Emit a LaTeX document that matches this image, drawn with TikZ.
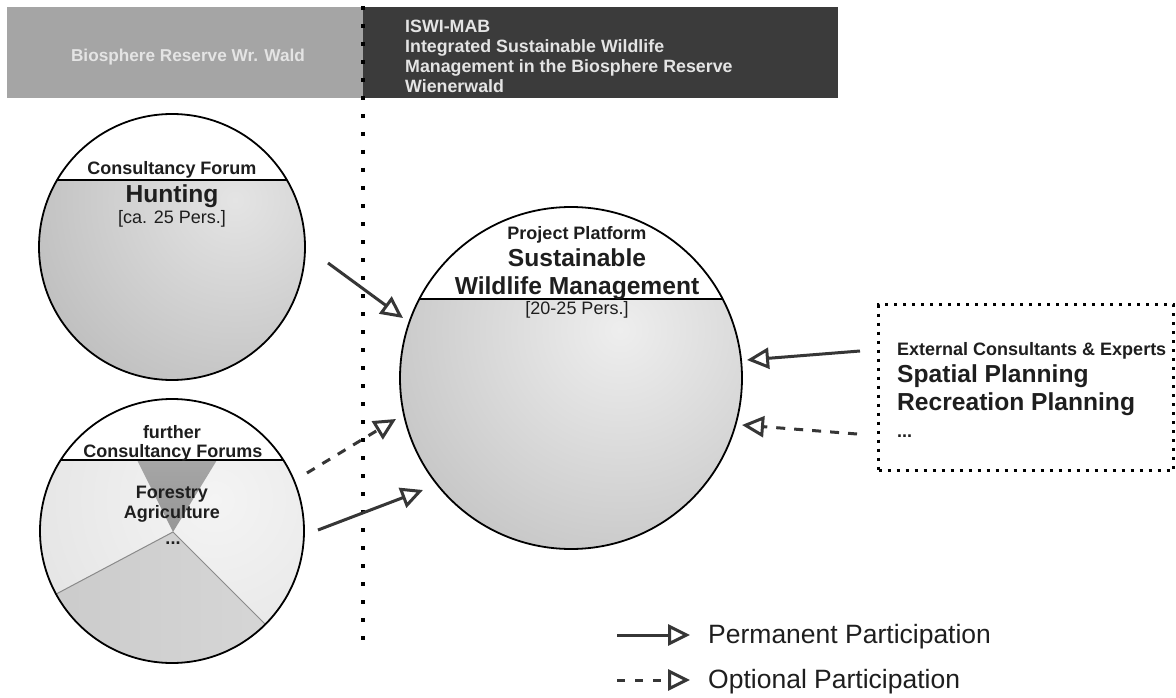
\documentclass[tikz,border=0pt]{standalone}
\usepackage{fontspec}
\setmainfont{Liberation Sans}
\usetikzlibrary{arrows.meta}
\definecolor{bandlight}{HTML}{A5A5A5}
\definecolor{banddark}{HTML}{3B3B3B}
\definecolor{bandtext}{HTML}{E4E4E4}
\definecolor{arrowc}{HTML}{363636}
\definecolor{txt}{HTML}{1E1E1E}
\definecolor{hiH}{HTML}{E4E4E4}
\definecolor{loH}{HTML}{8C8C8C}
\definecolor{hiP}{HTML}{EEEEEE}
\definecolor{loP}{HTML}{8E8E8E}
\definecolor{hiF}{HTML}{F4F4F4}
\definecolor{loF}{HTML}{D0D0D0}
\definecolor{lowL}{HTML}{C6C6C6}
\definecolor{lowR}{HTML}{DADADA}
\definecolor{wedgeT}{HTML}{A6A6A6}
\definecolor{wedgeB}{HTML}{969696}
\definecolor{pieline}{HTML}{8A8A8A}
\pgfdeclareradialshading{ballH}{\pgfpoint{0bp}{0bp}}{color(0bp)=(hiH); color(50bp)=(loH)}
\pgfdeclareradialshading{ballP}{\pgfpoint{0bp}{0bp}}{color(0bp)=(hiP); color(50bp)=(loP)}
\pgfdeclareradialshading{ballF}{\pgfpoint{0bp}{0bp}}{color(0bp)=(hiF); color(50bp)=(loF)}
\tikzset{
  band/.style={inner sep=0pt, outer sep=0pt, anchor=north west},
  bandtxt/.style={inner sep=0pt, text=bandtext, anchor=base west, font=\fontsize{17.8}{21}\selectfont\bfseries},
  forum/.style={circle, draw=black, line width=1.8pt, inner sep=0pt},
  chordline/.style={draw=black, line width=1.8pt},
  smallb/.style={inner sep=0pt, text=txt, anchor=base, font=\fontsize{18}{21}\selectfont\bfseries},
  bigb/.style={inner sep=0pt, text=txt, anchor=base, font=\fontsize{24.6}{28}\selectfont\bfseries},
  smallr/.style={inner sep=0pt, text=txt, anchor=base, font=\fontsize{18}{21}\selectfont},
  conn/.style={draw=arrowc, line width=3pt, -{Triangle[open, length=22pt, width=21pt, line width=3pt]}},
  opt/.style={conn, dash pattern=on 9pt off 9pt},
  legtxt/.style={inner sep=0pt, text=txt, anchor=base west, font=\fontsize{26.5}{30}\selectfont},
}
\begin{document}
\begin{tikzpicture}[x=1pt, y=-1pt]
\useasboundingbox (0,0) rectangle (1176,698);
\fill[white] (0,0) rectangle (1176,698);

% header bands
\node[band, fill=bandlight, minimum width=356pt, minimum height=91pt] (bio) at (7,7) {};
\node[band, fill=banddark, minimum width=475pt, minimum height=91pt] (iswi) at (363,7) {};
\node[inner sep=0pt, text=bandtext, anchor=base, font=\fontsize{17.2}{21}\selectfont\bfseries] (biotxt) at (188,62) {Biosphere Reserve Wr. Wald};
\node[bandtxt] (iswi1) at (405,33) {ISWI-MAB};
\node[bandtxt] (iswi2) at (405,53) {Integrated Sustainable Wildlife};
\node[bandtxt] (iswi3) at (405,73) {Management in the Biosphere Reserve};
\node[bandtxt] (iswi4) at (405,92.5) {Wienerwald};

% dotted separator
\coordinate (sepTop) at (363,6);
\coordinate (sepBot) at (363,640);
\draw[black, line width=4pt, dash pattern=on 4pt off 14pt] (sepTop) -- (sepBot);

% Hunting circle
\begin{scope}
  \clip (172,247) circle (133);
  \shade[shading=ballH] (235,200) circle (260);
  \fill[white] (0,100) rectangle (320,180);
  \draw[chordline] (0,180) -- (320,180);
\end{scope}
\node[forum, minimum size=266pt] (hunt) at (172,247) {};
\node[smallb] (huntA) at (172,175) {Consultancy Forum};
\node[bigb] (huntB) at (172,202) {Hunting};
\node[smallr] (huntC) at (172,223) {[ca. 25 Pers.]};

% further circle
\begin{scope}
  \clip (172,531) circle (132);
  \shade[shading=ballF] (215,500) circle (230);
  \shade[left color=lowL, right color=lowR] (173,532) -- (-53,652) -- (-53,800) -- (353,800) -- (353,712) -- cycle;
  \shade[top color=wedgeT, bottom color=wedgeB] (137,460) -- (217,460) -- (173,532) -- cycle;
  \draw[pieline, line width=1pt] (-53,652) -- (173,532) -- (353,712);
  \fill[white] (0,380) rectangle (320,460);
  \draw[chordline] (0,460) -- (320,460);
\end{scope}
\node[forum, minimum size=264pt] (further) at (172,531) {};
\node[smallb] (furtherA) at (172,438) {further};
\node[smallb] (furtherB) at (173,457) {Consultancy Forums};
\node[smallb] (furtherC) at (172,498) {Forestry};
\node[smallb] (furtherD) at (172,518) {Agriculture};
\node[smallb] (furtherE) at (173,544) {...};

% project circle
\begin{scope}
  \clip (571,378) circle (171);
  \shade[shading=ballP] (620,330) circle (300);
  \fill[white] (380,190) rectangle (760,299);
  \draw[chordline] (380,299) -- (760,299);
\end{scope}
\node[forum, minimum size=342pt] (proj) at (571,378) {};
\node[smallb] (projA) at (577,240) {Project Platform};
\node[bigb] (projB) at (577,266) {Sustainable};
\node[bigb] (projC) at (577,294) {Wildlife Management};
\node[smallr] (projD) at (577,314) {[20-25 Pers.]};

% external box
\node[draw=black, line width=3pt, dash pattern=on 3pt off 6pt, minimum width=295pt, minimum height=166pt, anchor=north west, inner sep=0pt] (ext) at (877,303) {};
\node[inner sep=0pt, text=txt, anchor=base west, font=\fontsize{18}{21}\selectfont\bfseries] (extA) at (897,355) {External Consultants \& Experts};
\node[inner sep=0pt, text=txt, anchor=base west, font=\fontsize{24.6}{28}\selectfont\bfseries] (extB) at (897,382) {Spatial Planning};
\node[inner sep=0pt, text=txt, anchor=base west, font=\fontsize{24.6}{28}\selectfont\bfseries] (extC) at (897,410) {Recreation Planning};
\node[inner sep=0pt, text=txt, anchor=base west, font=\fontsize{18}{21}\selectfont\bfseries] (extD) at (897,437) {...};

% connectors
\coordinate (huntOut) at (328,263);
\coordinate (projIn1) at (403,318);
\coordinate (furtherOut1) at (307,473);
\coordinate (projIn2) at (396,419);
\coordinate (furtherOut2) at (318,530);
\coordinate (projIn3) at (423,490);
\coordinate (extOut1) at (860,351);
\coordinate (projIn4) at (747,360);
\coordinate (extOut2) at (857,434);
\coordinate (projIn5) at (742,425);
\draw[conn] (huntOut) -- (projIn1);
\draw[opt] (furtherOut1) -- (projIn2);
\draw[conn] (furtherOut2) -- (projIn3);
\draw[conn] (extOut1) -- (projIn4);
\draw[opt] (extOut2) -- (projIn5);

% legend
\coordinate (legA1) at (617,635);
\coordinate (legA2) at (690,635);
\coordinate (legB1) at (617,680);
\coordinate (legB2) at (690,680);
\draw[conn] (legA1) -- (legA2);
\draw[conn, dash pattern=on 8pt off 10pt] (legB1) -- (legB2);
\node[legtxt] (legAt) at (708,643) {Permanent Participation};
\node[legtxt] (legBt) at (708,688) {Optional Participation};
\end{tikzpicture}
\end{document}
